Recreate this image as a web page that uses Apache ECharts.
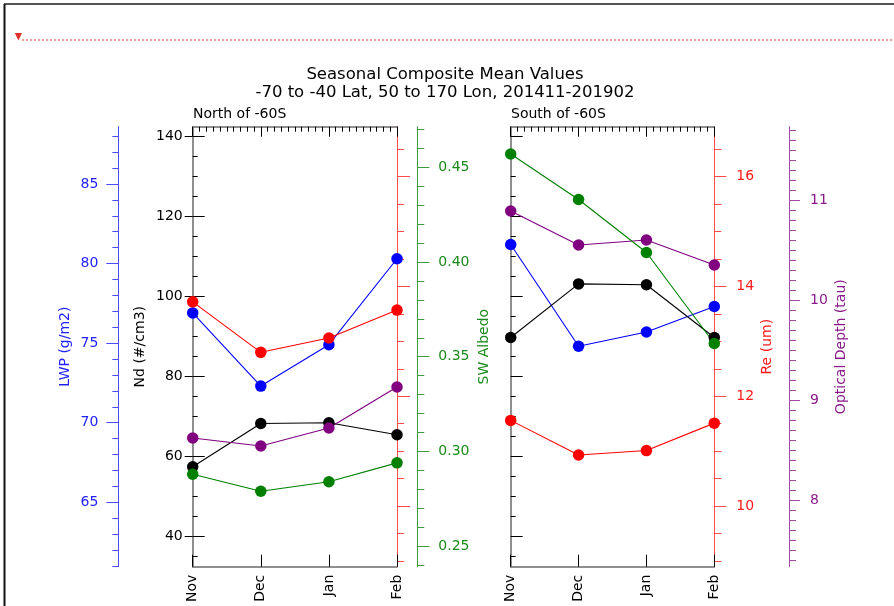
<!DOCTYPE html>
<html>
<head>
<meta charset="utf-8">
<script src="https://cdn.jsdelivr.net/npm/echarts@6/dist/echarts.min.js"></script>
<style>
html,body{margin:0;padding:0;background:#fff;}
#chart{width:894px;height:606px;}
</style>
</head>
<body>
<div id="chart"></div>
<script>
// ---- data ----
const months = ['Nov', 'Dec', 'Jan', 'Feb'];

// North of -60S
const lwpNorth = [76.9, 72.3, 74.9, 80.3];
const reNorth  = [13.72, 12.80, 13.06, 13.57];
const ndNorth  = [57.5, 68.3, 68.5, 65.5];
const tauNorth = [8.62, 8.54, 8.72, 9.13];
const albNorth = [0.288, 0.279, 0.284, 0.294];

// South of -60S
const lwpSouth = [81.2, 74.8, 75.7, 77.3];
const reSouth  = [11.56, 10.93, 11.01, 11.51];
const ndSouth  = [89.8, 103.2, 103.0, 89.8];
const tauSouth = [10.89, 10.55, 10.60, 10.35];
const albSouth = [0.457, 0.433, 0.405, 0.357];

// tick labels
const ndTicks  = [40, 60, 80, 100, 120, 140];
const lwpTicks = [65, 70, 75, 80, 85];
const albTicks = [0.25, 0.30, 0.35, 0.40, 0.45];
const reTicks  = [10, 12, 14, 16];
const tauTicks = [8, 9, 10, 11];

// ---- layout / style ----
const FONT = 'DejaVu Sans';
const ndRange  = [32.5, 142.5];
const lwpRange = [60.95, 88.60];
const albRange = [0.2392, 0.4714];
const reRange  = [8.894, 16.911];
const tauRange = [7.333, 11.733];

function steps(a, b, s) {
  const r = [];
  for (let i = 0; a + i * s <= b + 1e-9; i++) r.push(+(a + i * s).toFixed(4));
  return r;
}
const ndMinor  = steps(35, 140, 5);
const lwpMinor = steps(61, 88, 1);
const albMinor = steps(0.24, 0.47, 0.01);
const reMinor  = steps(9, 16.5, 0.5);
const tauMinor = steps(7.4, 11.7, 0.1);

const C = {
  blue: '#0000ff', blueAxis: '#4a4aff', blueText: '#2222ff',
  red: '#ff0000', redAxis: '#ff4a4a', redText: '#ff1a1a',
  green: '#008000', greenAxis: '#3c9c3c', greenText: '#1a8a1a',
  purple: '#800080', purpleAxis: '#a04aa0', purpleText: '#8a1a8a',
  gray: '#6a6a6a'
};

function yAxisLayer(gridIndex, range, position, offset, o) {
  return {
    type: 'value', gridIndex, min: range[0], max: range[1], position, offset,
    splitLine: { show: false },
    axisLine: { show: !!o.line, onZero: false, lineStyle: { color: o.lineColor || '#000', width: o.lineWidth || 1 } },
    axisTick: o.ticks ? { show: true, customValues: o.ticks, length: o.tickLen, inside: !!o.inside,
                          lineStyle: { color: o.tickColor || o.lineColor, width: 1 } } : { show: false },
    axisLabel: o.labels ? { show: true, customValues: o.labels, color: o.labelColor, fontFamily: FONT,
                            fontSize: 14, margin: o.margin, formatter: o.formatter } : { show: false },
    name: o.name || '',
    nameLocation: 'middle', nameRotate: 90, nameGap: o.nameGap,
    nameTextStyle: { color: o.labelColor, fontFamily: FONT, fontSize: 14 }
  };
}
function hiddenY(gridIndex, range) {
  return { type: 'value', gridIndex, min: range[0], max: range[1], show: false };
}

const yAxes = [
  // grid 0 (North)
  yAxisLayer(0, ndRange, 'left', 0, { line: true, lineColor: C.gray, lineWidth: 1.5, ticks: ndTicks, tickLen: 8, tickColor: '#000',
    labels: ndTicks, labelColor: '#000', margin: 10, name: 'Nd (#/cm3)', nameGap: 45 }),             // 0
  yAxisLayer(0, ndRange, 'left', 0, { ticks: ndTicks, tickLen: 12, inside: true, tickColor: '#000' }),   // 1
  yAxisLayer(0, ndRange, 'left', 0, { ticks: ndMinor, tickLen: 5, inside: true, tickColor: '#000' }),    // 2
  yAxisLayer(0, lwpRange, 'left', 74.4, { line: true, lineColor: C.blueAxis, ticks: lwpTicks, tickLen: 12,
    labels: lwpTicks, labelColor: C.blueText, margin: 20, name: 'LWP (g/m2)', nameGap: 46 }),           // 3
  yAxisLayer(0, lwpRange, 'left', 74.4, { ticks: lwpMinor, tickLen: 6, lineColor: C.blueAxis }),       // 4
  yAxisLayer(0, reRange, 'right', 0, { line: true, lineColor: C.redAxis, ticks: reTicks, tickLen: 13 }), // 5
  yAxisLayer(0, reRange, 'right', 0, { ticks: reMinor, tickLen: 7, lineColor: C.redAxis }),             // 6
  yAxisLayer(0, albRange, 'right', 20.3, { line: true, lineColor: C.greenAxis, ticks: albTicks, tickLen: 12,
    labels: albTicks, labelColor: C.greenText, margin: 21, formatter: v => (+v).toFixed(2),
    name: 'SW Albedo', nameGap: 60 }),                                                                   // 7
  yAxisLayer(0, albRange, 'right', 20.3, { ticks: albMinor, tickLen: 7, lineColor: C.greenAxis }),     // 8
  hiddenY(0, tauRange),                                                                                  // 9
  // grid 1 (South)
  yAxisLayer(1, ndRange, 'left', 0, { line: true, lineColor: C.gray, lineWidth: 1.5, ticks: ndTicks, tickLen: 12, inside: true, tickColor: '#000' }), // 10
  yAxisLayer(1, ndRange, 'left', 0, { ticks: ndMinor, tickLen: 5, inside: true, tickColor: '#000' }),   // 11
  yAxisLayer(1, reRange, 'right', 0, { line: true, lineColor: C.redAxis, ticks: reTicks, tickLen: 12,
    labels: reTicks, labelColor: C.redText, margin: 22, name: 'Re (um)', nameGap: 46 }),                // 12
  yAxisLayer(1, reRange, 'right', 0, { ticks: reMinor, tickLen: 7, lineColor: C.redAxis }),             // 13
  yAxisLayer(1, tauRange, 'right', 74.7, { line: true, lineColor: C.purpleAxis, ticks: tauTicks, tickLen: 11,
    labels: tauTicks, labelColor: C.purpleText, margin: 21, name: 'Optical Depth (tau)', nameGap: 45 }), // 14
  yAxisLayer(1, tauRange, 'right', 74.7, { ticks: tauMinor, tickLen: 7, lineColor: C.purpleAxis }),     // 15
  hiddenY(1, lwpRange),                                                                                   // 16
  hiddenY(1, albRange)                                                                                    // 17
];

function bottomX(gridIndex) {
  return {
    type: 'category', gridIndex, data: months, boundaryGap: false, position: 'bottom',
    axisLine: { lineStyle: { color: C.gray, width: 1.5 } },
    axisTick: { inside: true, length: 12, lineStyle: { color: '#000' } },
    axisLabel: { rotate: 90, color: '#000', fontFamily: FONT, fontSize: 14, margin: 8 },
    splitLine: { show: false }
  };
}
function topX(gridIndex) {
  return {
    type: 'value', gridIndex, min: 0, max: 3, interval: 1, position: 'top',
    axisLine: { show: true, lineStyle: { color: C.gray, width: 1.5 } },
    axisTick: { show: true, inside: true, length: 10, lineStyle: { color: '#000' } },
    minorTick: { show: true, splitNumber: 10, length: 5, lineStyle: { color: '#000' } },
    axisLabel: { show: false },
    splitLine: { show: false }
  };
}

function line(name, x, y, data, color) {
  return {
    name, type: 'line', xAxisIndex: x, yAxisIndex: y, data,
    symbol: 'circle', symbolSize: 11.5, showSymbol: true,
    lineStyle: { color, width: 1.1 }, itemStyle: { color }
  };
}

const option = {
  animation: false,
  backgroundColor: '#fff',
  textStyle: { fontFamily: FONT },
  title: {
    text: 'Seasonal Composite Mean Values\n-70 to -40 Lat, 50 to 170 Lon, 201411-201902',
    left: 440, top: 61, textAlign: 'center',
    textStyle: { fontFamily: FONT, fontSize: 16.5, fontWeight: 'normal', color: '#000', lineHeight: 18 }
  },
  grid: [
    { left: 192.7, top: 126.7, width: 204.3, height: 440 },
    { left: 510.7, top: 126.7, width: 203.6, height: 440 }
  ],
  xAxis: [bottomX(0), topX(0), bottomX(1), topX(1)],
  yAxis: yAxes,
  series: [
    line('LWP N', 0, 3, lwpNorth, C.blue),
    line('Re N', 0, 5, reNorth, C.red),
    line('Nd N', 0, 0, ndNorth, '#000'),
    line('Tau N', 0, 9, tauNorth, C.purple),
    line('Alb N', 0, 7, albNorth, C.green),
    line('LWP S', 2, 16, lwpSouth, C.blue),
    line('Re S', 2, 12, reSouth, C.red),
    line('Nd S', 2, 10, ndSouth, '#000'),
    line('Tau S', 2, 14, tauSouth, C.purple),
    line('Alb S', 2, 17, albSouth, C.green)
  ],
  graphic: [
    { type: 'line', shape: { x1: 4, y1: 4, x2: 894, y2: 4 }, style: { stroke: '#555', lineWidth: 2 } },
    { type: 'line', shape: { x1: 4.5, y1: 4, x2: 4.5, y2: 606 }, style: { stroke: '#111', lineWidth: 2 } },
    { type: 'line', shape: { x1: 22, y1: 40, x2: 894, y2: 40 }, style: { stroke: '#e83a3a', lineWidth: 1, lineDash: [2, 2] } },
    { type: 'polygon', shape: { points: [[14.8, 33], [22, 33], [18.4, 40.5]] }, style: { fill: '#e23030' } },
    { type: 'text', left: 193, top: 107, style: { text: 'North of -60S', fontFamily: FONT, fontSize: 14, fill: '#000' } },
    { type: 'text', left: 511, top: 107, style: { text: 'South of -60S', fontFamily: FONT, fontSize: 14, fill: '#000' } }
  ]
};

const chart = echarts.init(document.getElementById('chart'), null, { renderer: 'canvas' });
chart.setOption(option);
</script>
</body>
</html>
